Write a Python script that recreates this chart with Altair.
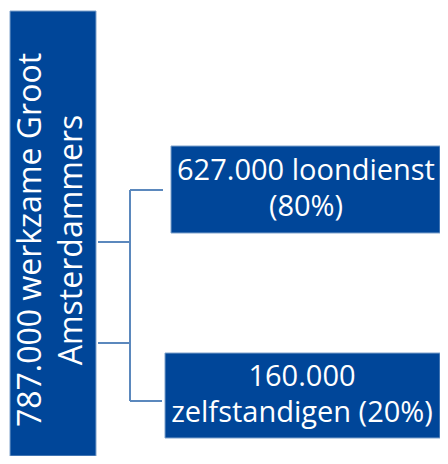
import altair as alt
import pandas as pd

# Diagram content
total_label = "787.000 werkzame Groot\nAmsterdammers"
part_labels = ["627.000 loondienst\n(80%)", "160.000\nzelfstandigen (20%)"]
part_values = [627000, 160000]
part_shares = [80, 20]

# Layout grid (diagram units, 0..432 wide, 0..448 high, top-down)
box_x = [2, 163, 157]
box_x2 = [88, 432, 432]
box_y = [3, 138, 345]
box_y2 = [448, 225, 430]

conn_x = [90, 90, 122, 122, 122]
conn_x2 = [122, 122, 122, 155, 154]
conn_y = [234, 335, 182, 182, 393]
conn_y2 = [234, 335, 393, 182, 393]

# first-line anchor positions of each label
text_x = [23, 298, 294]
text_y = [232, 163, 369]

BLUE = "#004699"
LINE = "#5b88bd"

xs = alt.Scale(domain=[0, 432], nice=False, zero=False)
ys = alt.Scale(domain=[0, 448], nice=False, zero=False, reverse=True)

boxes = pd.DataFrame({"x": box_x, "x2": box_x2, "y": box_y, "y2": box_y2})
conns = pd.DataFrame({"x": conn_x, "x2": conn_x2, "y": conn_y, "y2": conn_y2})
left_txt = pd.DataFrame({"x": [text_x[0]], "y": [text_y[0]], "t": [total_label]})
right_txt = pd.DataFrame({"x": text_x[1:], "y": text_y[1:], "t": part_labels})

rects = alt.Chart(boxes).mark_rect(color=BLUE, stroke="#7fa2cc", strokeWidth=1).encode(
    x=alt.X("x:Q", scale=xs, axis=None),
    x2="x2:Q",
    y=alt.Y("y:Q", scale=ys, axis=None),
    y2="y2:Q",
)

rules = alt.Chart(conns).mark_rule(color=LINE, strokeWidth=2).encode(
    x=alt.X("x:Q", scale=xs, axis=None),
    x2="x2:Q",
    y=alt.Y("y:Q", scale=ys, axis=None),
    y2="y2:Q",
)

ltext = alt.Chart(left_txt).mark_text(
    angle=270, lineBreak="\n", lineHeight=41, font="Open Sans", fontSize=32,
    color="white", align="center", baseline="middle",
).encode(
    x=alt.X("x:Q", scale=xs, axis=None),
    y=alt.Y("y:Q", scale=ys, axis=None),
    text="t:N",
)

rtext = alt.Chart(right_txt).mark_text(
    lineBreak="\n", lineHeight=36, font="Open Sans", fontSize=29,
    color="white", align="center", baseline="middle",
).encode(
    x=alt.X("x:Q", scale=xs, axis=None),
    y=alt.Y("y:Q", scale=ys, axis=None),
    text="t:N",
)

chart = alt.layer(rects, rules, ltext, rtext).properties(
    width=432, height=448, padding=0, autosize="none",
).configure_view(stroke=None)

chart.save("out.html", embed_options={"renderer": "svg", "actions": False})
